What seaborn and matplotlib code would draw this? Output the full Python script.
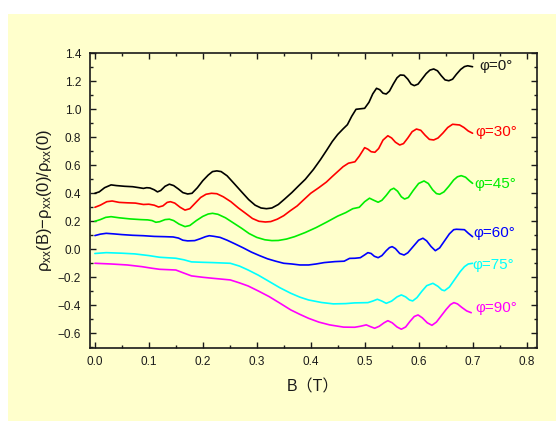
import numpy as np
import pandas as pd
import matplotlib
matplotlib.use("Agg")
import matplotlib.pyplot as plt
from matplotlib.patches import Rectangle
from matplotlib.ticker import MultipleLocator
import seaborn as sns

# ---- data ----
b_0 = [0.000, 0.008, 0.018, 0.030, 0.040, 0.055, 0.070, 0.082, 0.090, 0.096, 0.102, 0.110, 0.116,
       0.122, 0.130, 0.138, 0.146, 0.155, 0.163, 0.172, 0.180, 0.190, 0.200, 0.210, 0.218, 0.226,
       0.234, 0.245, 0.258, 0.272, 0.285, 0.297, 0.308, 0.318, 0.328, 0.340, 0.352, 0.365, 0.378,
       0.390, 0.405, 0.418, 0.430, 0.440, 0.450, 0.460, 0.468, 0.476, 0.484, 0.500, 0.508, 0.515,
       0.522, 0.528, 0.534, 0.540, 0.546, 0.553, 0.560, 0.566, 0.573, 0.580, 0.586, 0.592, 0.599,
       0.606, 0.614, 0.621, 0.628, 0.635, 0.642, 0.649, 0.656, 0.663, 0.670, 0.678, 0.685, 0.691,
       0.700]
v_0 = [0.40, 0.41, 0.44, 0.46, 0.455, 0.45, 0.447, 0.44, 0.435, 0.44, 0.438, 0.425, 0.41,
       0.42, 0.45, 0.465, 0.455, 0.43, 0.405, 0.395, 0.40, 0.44, 0.49, 0.53, 0.555, 0.56,
       0.555, 0.525, 0.47, 0.41, 0.355, 0.315, 0.295, 0.29, 0.295, 0.32, 0.36, 0.405, 0.455,
       0.50, 0.57, 0.64, 0.71, 0.77, 0.82, 0.86, 0.89, 0.95, 1.00, 1.007, 1.05, 1.11,
       1.15, 1.14, 1.115, 1.109, 1.13, 1.18, 1.225, 1.245, 1.243, 1.215, 1.18, 1.169, 1.18,
       1.215, 1.255, 1.28, 1.288, 1.275, 1.24, 1.21, 1.204, 1.215, 1.25, 1.285, 1.305, 1.311,
       1.304]

b_30 = [0.000, 0.010, 0.022, 0.032, 0.045, 0.060, 0.075, 0.090, 0.100, 0.110, 0.118, 0.126, 0.134,
        0.140, 0.148, 0.158, 0.167, 0.176, 0.186, 0.196, 0.206, 0.216, 0.226, 0.238, 0.252, 0.266,
        0.280, 0.292, 0.304, 0.316, 0.326, 0.338, 0.350, 0.362, 0.375, 0.386, 0.400, 0.415, 0.429,
        0.440, 0.450, 0.460, 0.470, 0.482, 0.490, 0.500, 0.506, 0.512, 0.519, 0.526, 0.534, 0.543,
        0.550, 0.557, 0.565, 0.572, 0.580, 0.588, 0.596, 0.604, 0.612, 0.620, 0.628, 0.636, 0.645,
        0.654, 0.663, 0.676, 0.684, 0.692, 0.700]
v_30 = [0.30, 0.315, 0.34, 0.345, 0.335, 0.332, 0.33, 0.32, 0.322, 0.315, 0.302, 0.31, 0.335,
        0.34, 0.33, 0.30, 0.28, 0.29, 0.33, 0.37, 0.393, 0.40, 0.397, 0.375, 0.34, 0.295,
        0.255, 0.22, 0.20, 0.195, 0.198, 0.215, 0.24, 0.275, 0.31, 0.35, 0.40, 0.44, 0.48,
        0.52, 0.555, 0.59, 0.615, 0.625, 0.665, 0.726, 0.715, 0.697, 0.693, 0.72, 0.78, 0.811,
        0.795, 0.765, 0.745, 0.755, 0.795, 0.84, 0.859, 0.85, 0.815, 0.785, 0.781, 0.795, 0.83,
        0.87, 0.893, 0.888, 0.87, 0.845, 0.829]

b_45 = [0.000, 0.010, 0.020, 0.030, 0.045, 0.065, 0.085, 0.098, 0.106, 0.113, 0.120, 0.130, 0.138,
        0.146, 0.156, 0.167, 0.176, 0.188, 0.200, 0.210, 0.218, 0.228, 0.242, 0.258, 0.272, 0.286,
        0.300, 0.315, 0.328, 0.340, 0.355, 0.370, 0.390, 0.410, 0.430, 0.450, 0.465, 0.478, 0.490,
        0.500, 0.509, 0.517, 0.525, 0.532, 0.540, 0.548, 0.554, 0.561, 0.568, 0.574, 0.581, 0.590,
        0.600, 0.610, 0.618, 0.626, 0.633, 0.639, 0.647, 0.656, 0.665, 0.672, 0.679, 0.687, 0.694,
        0.700]
v_45 = [0.20, 0.212, 0.228, 0.233, 0.225, 0.217, 0.212, 0.21, 0.205, 0.193, 0.197, 0.212, 0.215,
        0.205, 0.18, 0.162, 0.17, 0.205, 0.235, 0.252, 0.257, 0.25, 0.225, 0.185, 0.15, 0.112,
        0.085, 0.068, 0.062, 0.063, 0.073, 0.09, 0.12, 0.155, 0.195, 0.237, 0.262, 0.29, 0.30,
        0.34, 0.365, 0.35, 0.336, 0.35, 0.385, 0.425, 0.436, 0.415, 0.375, 0.359, 0.37, 0.42,
        0.47, 0.488, 0.47, 0.425, 0.398, 0.393, 0.41, 0.45, 0.495, 0.518, 0.526, 0.515, 0.49,
        0.471]

b_60 = [0.000, 0.010, 0.021, 0.035, 0.050, 0.070, 0.090, 0.110, 0.130, 0.145, 0.155, 0.163, 0.172,
        0.185, 0.195, 0.205, 0.212, 0.220, 0.232, 0.245, 0.260, 0.275, 0.290, 0.305, 0.320, 0.335,
        0.350, 0.365, 0.380, 0.396, 0.410, 0.425, 0.445, 0.462, 0.472, 0.482, 0.492, 0.500, 0.506,
        0.512, 0.518, 0.525, 0.532, 0.540, 0.546, 0.551, 0.557, 0.565, 0.573, 0.580, 0.590, 0.600,
        0.608, 0.615, 0.623, 0.631, 0.639, 0.648, 0.657, 0.665, 0.670, 0.685, 0.692, 0.700]
v_60 = [0.098, 0.108, 0.114, 0.11, 0.105, 0.10, 0.097, 0.092, 0.09, 0.088, 0.08, 0.065, 0.06,
        0.062, 0.075, 0.09, 0.097, 0.093, 0.085, 0.065, 0.038, 0.01, -0.02, -0.045, -0.068, -0.085,
        -0.10, -0.105, -0.112, -0.112, -0.105, -0.095, -0.088, -0.085, -0.065, -0.064, -0.06, -0.04, -0.024,
        -0.03, -0.05, -0.06, -0.045, -0.01, 0.012, 0.019, 0.005, -0.03, -0.041, -0.025, 0.02, 0.065,
        0.079, 0.06, 0.02, -0.01, 0.01, 0.06, 0.11, 0.14, 0.143, 0.14, 0.115, 0.09]

b_75 = [0.000, 0.021, 0.050, 0.074, 0.100, 0.120, 0.150, 0.165, 0.179, 0.200, 0.218, 0.251, 0.268,
        0.284, 0.303, 0.323, 0.343, 0.363, 0.380, 0.396, 0.420, 0.442, 0.465, 0.481, 0.506, 0.515,
        0.5235, 0.532, 0.540, 0.550, 0.560, 0.568, 0.576, 0.583, 0.589, 0.597, 0.606, 0.615, 0.6265,
        0.636, 0.643, 0.648, 0.657, 0.667, 0.677, 0.685, 0.692, 0.700]
v_75 = [-0.03, -0.024, -0.028, -0.033, -0.045, -0.057, -0.064, -0.075, -0.09, -0.093, -0.095, -0.10, -0.12,
        -0.148, -0.185, -0.23, -0.275, -0.314, -0.342, -0.362, -0.38, -0.39, -0.388, -0.383, -0.381, -0.37,
        -0.357, -0.37, -0.386, -0.37, -0.34, -0.326, -0.34, -0.362, -0.369, -0.345, -0.30, -0.26, -0.243,
        -0.265, -0.29, -0.296, -0.27, -0.215, -0.16, -0.124, -0.105, -0.10]

b_90 = [0.000, 0.030, 0.060, 0.087, 0.105, 0.120, 0.150, 0.165, 0.179, 0.200, 0.218, 0.251, 0.268,
        0.284, 0.303, 0.323, 0.343, 0.363, 0.380, 0.396, 0.415, 0.435, 0.461, 0.4815, 0.492, 0.503,
        0.511, 0.5185, 0.527, 0.536, 0.543, 0.551, 0.560, 0.568, 0.576, 0.584, 0.592, 0.599, 0.607,
        0.616, 0.6247, 0.633, 0.642, 0.651, 0.659, 0.6654, 0.672, 0.680, 0.689, 0.6975]
v_90 = [-0.10, -0.105, -0.112, -0.124, -0.135, -0.143, -0.148, -0.17, -0.19, -0.20, -0.207, -0.219, -0.24,
        -0.262, -0.298, -0.338, -0.385, -0.433, -0.465, -0.493, -0.52, -0.54, -0.556, -0.557, -0.55, -0.54,
        -0.553, -0.564, -0.55, -0.525, -0.51, -0.525, -0.555, -0.571, -0.555, -0.515, -0.48, -0.469, -0.49,
        -0.525, -0.543, -0.52, -0.475, -0.43, -0.395, -0.381, -0.39, -0.415, -0.44, -0.453]

labels = ["φ=0°", "φ=30°", "φ=45°", "φ=60°", "φ=75°", "φ=90°"]
label_x = [0.713, 0.705, 0.704, 0.702, 0.700, 0.705]
label_y = [1.31, 0.84, 0.466, 0.114, -0.112, -0.42]
colors = ["#000000", "#FF0000", "#00EE00", "#0000FF", "#00FFFF", "#FF00FF"]

series_b = [b_0, b_30, b_45, b_60, b_75, b_90]
series_v = [v_0, v_30, v_45, v_60, v_75, v_90]

frames = []
for lab, bb, vv in zip(labels, series_b, series_v):
    frames.append(pd.DataFrame({"B": bb, "val": vv, "phi": lab}))
df = pd.concat(frames, ignore_index=True)

# ---- style ----
sns.set_style("ticks")
plt.rcParams["font.family"] = ["Liberation Sans", "Noto Sans CJK JP", "DejaVu Sans"]
plt.rcParams["mathtext.default"] = "regular"

BG = "#FFFFCC"
TXT = "#1a1a1a"
fig = plt.figure(figsize=(5.56, 4.21), dpi=100, facecolor="white")
fig.patches.append(Rectangle((8 / 556, 0), 548 / 556, 407 / 421, transform=fig.transFigure,
                             facecolor=BG, edgecolor="none", zorder=-10))
ax = fig.add_axes([89.5 / 556, 1 - 347.7 / 421, (537.3 - 89.5) / 556, (347.7 - 53.3) / 421])
ax.set_facecolor(BG)

sns.lineplot(data=df, x="B", y="val", hue="phi", palette=dict(zip(labels, colors)),
             estimator=None, sort=False, units="phi", legend=False, linewidth=1.2, ax=ax)

for lab, x, y, c in zip(labels, label_x, label_y, colors):
    ax.text(x, y, lab, color=c if c != "#000000" else TXT, fontsize=11, ha="left", va="center")

ax.set_xlim(-0.01, 0.82)
ax.set_ylim(-0.703, 1.4)
ax.xaxis.set_major_locator(MultipleLocator(0.1))
ax.xaxis.set_minor_locator(MultipleLocator(0.05))
ax.yaxis.set_major_locator(MultipleLocator(0.2))
ax.yaxis.set_minor_locator(MultipleLocator(0.1))
ax.tick_params(which="both", direction="in", top=True, right=True, color=TXT,
               labelcolor=TXT, labelsize=8.5, width=1.0)
ax.tick_params(which="major", length=4.5, pad=6)
ax.tick_params(which="minor", length=2.5)
for s in ax.spines.values():
    s.set_linewidth(1.2)
    s.set_color(TXT)

ax.set_xlabel("B（T）", fontsize=11.5, color=TXT, labelpad=8)
ax.set_ylabel(r"$\rho_{xx}$(B)−$\rho_{xx}$(0)/$\rho_{xx}$(0)", fontsize=12, color=TXT, labelpad=3)

fig.savefig("out.png", dpi=100, facecolor="white")
